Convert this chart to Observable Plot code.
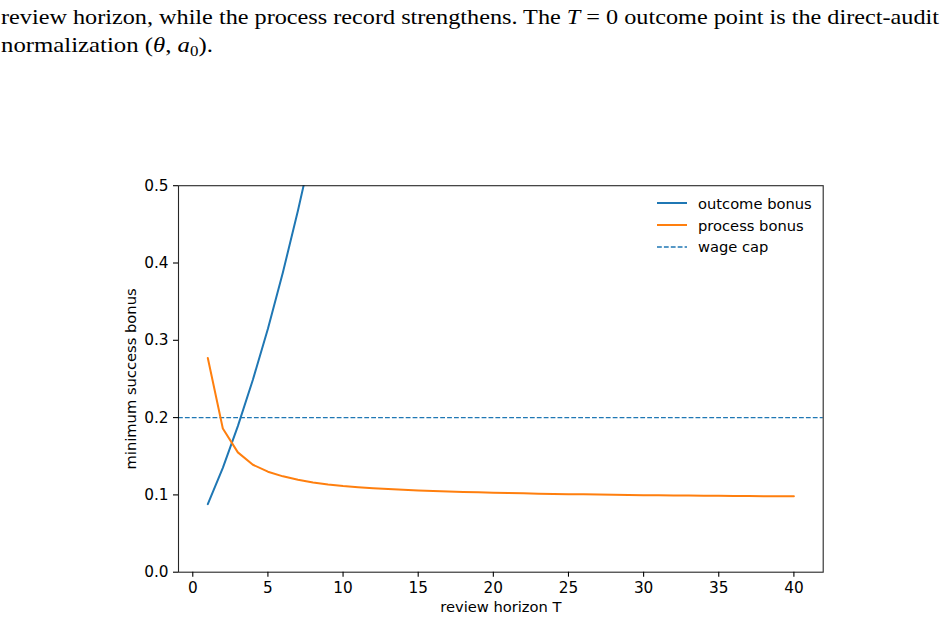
<!DOCTYPE html>
<html>
<head>
<meta charset="utf-8">
<script src="https://cdn.jsdelivr.net/npm/d3@7"></script>
<script src="https://cdn.jsdelivr.net/npm/@observablehq/plot@0.6"></script>
<style>
  html, body { margin: 0; padding: 0; background: #fff; }
  body { width: 947px; height: 620px; position: relative; overflow: hidden; }
  #header { position: absolute; left: 0; top: 0; }
  #chart { position: absolute; left: 0; top: 0; }
  #legend { position: absolute; left: 0; top: 0; font-family: "DejaVu Sans", sans-serif; font-size: 14.7px; color: #000; }
  .lg { position: absolute; display: flex; align-items: center; height: 20px; white-space: nowrap; }
  .lg svg { margin-right: 11px; }
</style>
</head>
<body>
<svg id="header" width="947" height="70"></svg>
<div id="chart"></div>
<div id="legend"></div>
<script>
// ---- data ----
const outcomeT = [1, 2, 3, 4, 5, 6, 7, 8];
const outcomeBonus = [0.088, 0.135, 0.189, 0.249, 0.315, 0.388, 0.468, 0.554];

const processT = [1, 2, 3, 4, 5, 6, 7, 8, 9, 10,
  11, 12, 13, 14, 15, 16, 17, 18, 19, 20,
  21, 22, 23, 24, 25, 26, 27, 28, 29, 30,
  31, 32, 33, 34, 35, 36, 37, 38, 39, 40];
const processBonus = [0.277, 0.186, 0.155, 0.139, 0.1300, 0.1240, 0.1195, 0.1160, 0.1135, 0.1115,
  0.1100, 0.1087, 0.1076, 0.1066, 0.1058, 0.1050, 0.1044, 0.1038, 0.1033, 0.1028,
  0.1024, 0.1020, 0.1016, 0.1013, 0.1010, 0.1007, 0.1004, 0.1002, 0.1000, 0.0997,
  0.0995, 0.0993, 0.0991, 0.0990, 0.0988, 0.0986, 0.0985, 0.0983, 0.0982, 0.0981];

const wageCap = 0.2;

const xTicks = [0, 5, 10, 15, 20, 25, 30, 35, 40];
const yTicks = [0.0, 0.1, 0.2, 0.3, 0.4, 0.5];

const seriesNames = ["outcome bonus", "process bonus", "wage cap"];
const seriesColors = ["#1f77b4", "#ff7f0e", "#1f77b4"];

const xLabel = "review horizon T";
const yLabel = "minimum success bonus";

// ---- tables ----
const outcome = outcomeT.map((t, i) => ({T: t, v: outcomeBonus[i]}));
const process = processT.map((t, i) => ({T: t, v: processBonus[i]}));

const FS = 14.7;
const TFS = 15.3;

const chart = Plot.plot({
  width: 947,
  height: 620,
  marginLeft: 178,
  marginRight: 124.3,
  marginTop: 185.2,
  marginBottom: 48.3,
  x: {domain: [-0.95, 41.95]},
  y: {domain: [0, 0.5]},
  style: {fontFamily: "DejaVu Sans, sans-serif", fontSize: FS + "px", color: "#000", background: "transparent", overflow: "visible"},
  marks: [
    Plot.ruleY([wageCap], {stroke: seriesColors[2], strokeWidth: 1.3, strokeDasharray: "4.8,2.1"}),
    Plot.lineY(outcome, {x: "T", y: "v", stroke: seriesColors[0], strokeWidth: 2, clip: true}),
    Plot.lineY(process, {x: "T", y: "v", stroke: seriesColors[1], strokeWidth: 2, clip: true}),
    Plot.frame({stroke: "#000", strokeWidth: 1.1, strokeOpacity: 0.85}),
    Plot.axisX({ticks: xTicks, tickSize: 5, tickPadding: 4.5, label: null, fontSize: TFS, strokeWidth: 1.1}),
    Plot.axisY({ticks: yTicks, tickSize: 5, tickPadding: 5, tickFormat: ".1f", label: null, fontSize: TFS, strokeWidth: 1.1}),
    Plot.text([xLabel], {text: d => d, frameAnchor: "bottom", dy: 39.5, fontSize: FS, fill: "#000"}),
    Plot.text([yLabel], {text: d => d, frameAnchor: "left", textAnchor: "middle", dx: -47, rotate: -90, fontSize: FS, fill: "#000"})
  ]
});
document.getElementById("chart").appendChild(chart);

// ---- legend ----
const legend = document.getElementById("legend");
const legendY = [203.3, 225, 246.7];
seriesNames.forEach((name, i) => {
  const row = document.createElement("div");
  row.className = "lg";
  row.style.left = "657px";
  row.style.top = (legendY[i] - 10) + "px";
  const dash = i === 2 ? 'stroke-dasharray="4.8,2.1" stroke-width="1.3"' : 'stroke-width="2"';
  row.innerHTML = `<svg width="30" height="20"><line x1="0" x2="30" y1="10" y2="10" stroke="${seriesColors[i]}" ${dash}/></svg><span>${name}</span>`;
  legend.appendChild(row);
});

// ---- header text (document prose above the figure) ----
const NS = "http://www.w3.org/2000/svg";
const header = document.getElementById("header");
function addLine(parts, y, targetWidth) {
  const t = document.createElementNS(NS, "text");
  t.setAttribute("font-family", "Liberation Serif, serif");
  t.setAttribute("font-size", "22");
  t.setAttribute("fill", "#000");
  parts.forEach(p => {
    const s = document.createElementNS(NS, "tspan");
    s.textContent = p.t;
    if (p.i) s.setAttribute("font-style", "italic");
    if (p.sub) { s.setAttribute("font-size", "15"); s.setAttribute("dy", "4"); }
    if (p.back) s.setAttribute("dy", "-4");
    t.appendChild(s);
  });
  header.appendChild(t);
  const w = t.getComputedTextLength();
  const sx = targetWidth / w;
  t.setAttribute("transform", `translate(1,${y}) scale(${sx},1)`);
}
addLine([
  {t: "review horizon, while the process record strengthens. The "},
  {t: "T", i: true},
  {t: " = 0 outcome point is the direct-audit"}
], 24, 939);
addLine([
  {t: "normalization ("},
  {t: "θ", i: true},
  {t: ", "},
  {t: "a", i: true},
  {t: "0", sub: true},
  {t: ").", back: true}
], 51.5, 212);
</script>
</body>
</html>
